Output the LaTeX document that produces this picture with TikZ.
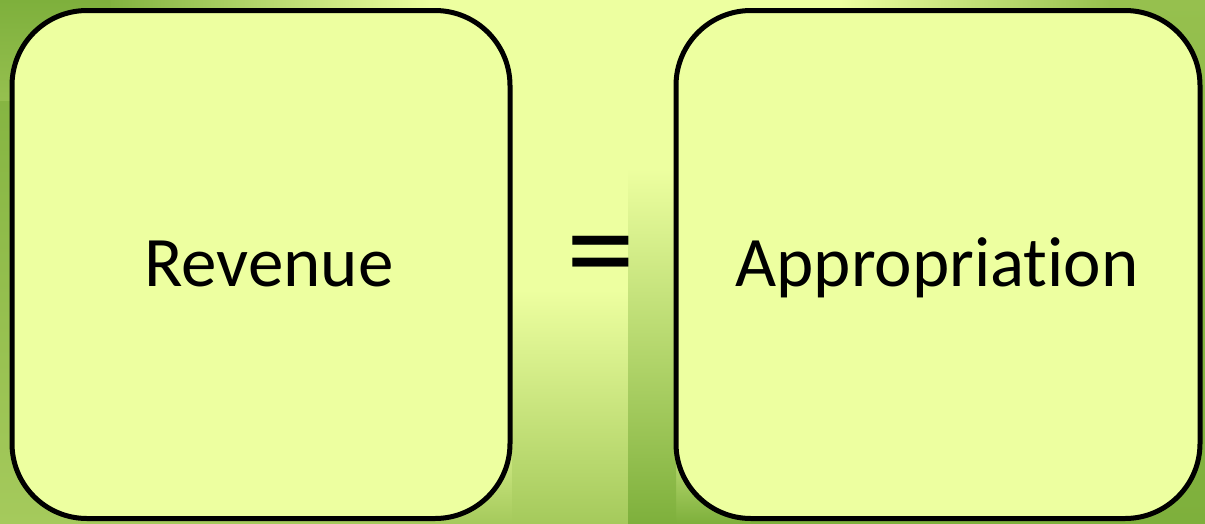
\documentclass[tikz,border=0pt]{standalone}
\usepackage{fontspec}
\setmainfont{Carlito}[Ligatures={NoCommon}]
\definecolor{bglight}{RGB}{237,255,160}
\definecolor{boxfill}{RGB}{237,255,160}
\definecolor{gdark}{RGB}{126,176,60}
\definecolor{gmid}{RGB}{165,202,92}
\definecolor{gmid2}{RGB}{150,192,78}
\begin{document}
\begin{tikzpicture}[x=1pt,y=-1pt,
  box/.style={draw=black, line width=5pt, fill=boxfill, rounded corners=75pt,
    minimum height=508pt},
  lbl/.style={anchor=base, inner sep=0pt, font=\fontsize{71}{80}\selectfont},
  eqsign/.style={font=\fontsize{138}{150}\selectfont, inner sep=0pt}]
\useasboundingbox (0,0) rectangle (1205,523);
% background
\fill[bglight] (0,0) rectangle (1205,523);
% bottom bands
\shade[top color=bglight, bottom color=gmid] (0,400) rectangle (628,523);
\shade[top color=bglight, bottom color=gdark] (628,400) rectangle (1205,523);
\shade[top color=bglight, bottom color=gmid] (512,290) rectangle (628,523);
\shade[top color=bglight, middle color=gmid, bottom color=gdark] (628,168) rectangle (676,523);
% left column
\shade[top color=gdark, bottom color=gmid] (0,0) rectangle (110,523);
% top band left
\shade[left color=gdark, right color=bglight] (100,0) rectangle (430,100);
\shade[top color=gdark, bottom color=gdark!40!gmid] (0,0) rectangle (110,100);
% top band right
\shade[left color=bglight, right color=gmid2] (840,0) rectangle (1110,100);
\shade[top color=gmid2, bottom color=gdark] (1110,0) rectangle (1205,523);
% boxes
\node[box, minimum width=498pt] (rev) at (261,264.5) {};
\node[box, minimum width=524pt] (app) at (938,264.5) {};
\node[lbl] (revtxt) at (269,286.5) {Revenue};
\node[lbl] (apptxt) at (937,286.5) {Appropriation};
\node[eqsign] (eq) at (601,266) {=};
\end{tikzpicture}
\end{document}
